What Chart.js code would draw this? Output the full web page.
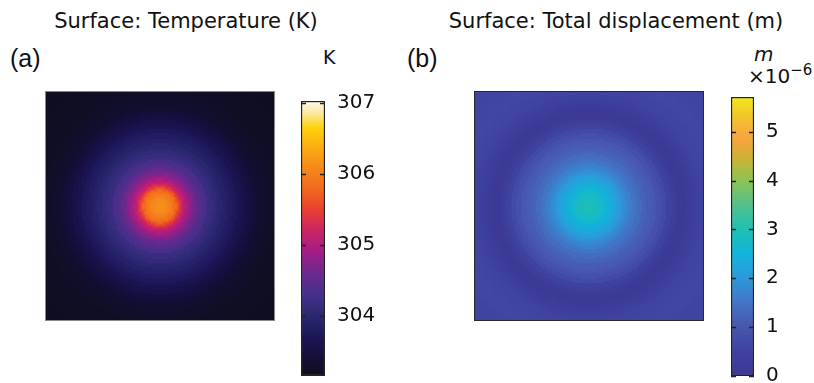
<!DOCTYPE html>
<html>
<head>
<meta charset="utf-8">
<script src="https://cdn.jsdelivr.net/npm/chart.js@4.4.1/dist/chart.umd.min.js"></script>
<style>
  body { margin: 0; background: #fff; overflow: hidden; width: 814px; height: 383px; position: relative; }
  .t { position: absolute; font-family: 'DejaVu Sans', sans-serif; font-size: 19px; line-height: 1; white-space: nowrap; color: #111; }
  .ttl { font-size: 21px; transform: translateX(-50%); }
  .lbl { font-family: 'Liberation Sans', Arial, sans-serif; font-size: 25px; }
  canvas { position: absolute; }
</style>
</head>
<body>
<div class="t ttl" style="left:186px;top:11px">Surface: Temperature (K)</div>
<div class="t ttl" style="left:616px;top:11px">Surface: Total displacement (m)</div>
<div class="t lbl" style="left:10px;top:46px">(a)</div>
<div class="t lbl" style="left:407px;top:46px">(b)</div>
<div class="t" style="left:323px;top:48px">K</div>
<div class="t" style="left:754px;top:44px;font-style:italic;font-size:20px">m</div>
<div class="t" style="left:748px;top:66px;font-size:20px">×10<span style="font-size:15px;position:relative;top:-8px">−6</span></div>

<canvas id="heatA" width="230" height="230" style="left:45px;top:91px"></canvas>
<canvas id="barA" width="84" height="305" style="left:301px;top:86px"></canvas>
<canvas id="heatB" width="230" height="230" style="left:474px;top:91px"></canvas>
<canvas id="barB" width="83" height="309" style="left:731px;top:82px"></canvas>

<script>
// radial profiles (distance from the centre of each plate, px)
const radiusPx = [0, 2.5, 5, 7.5, 10, 12.5, 15, 17.5, 20, 22.5, 25, 27.5, 30, 32.5, 35, 37.5, 40,
  45, 50, 55, 60, 65, 70, 75, 80, 85, 90, 95, 100, 105, 110, 115, 120, 125, 130, 135, 140,
  145, 150, 155, 160, 165];
const temperature = [306.15, 306.14, 306.12, 306.08, 306.02, 305.94, 305.84, 305.66, 305.42,
  305.2, 305.05, 304.93, 304.82, 304.71, 304.62, 304.53, 304.45,
  304.32, 304.2, 304.1, 304.0, 303.92, 303.84, 303.76, 303.66, 303.56, 303.48, 303.41, 303.35,
  303.31, 303.28, 303.26, 303.24, 303.23, 303.22, 303.21, 303.21, 303.2, 303.2, 303.2, 303.2, 303.2];
const displacement = [2.95, 2.94, 2.9, 2.85, 2.8, 2.73, 2.65, 2.56, 2.47, 2.38, 2.3, 2.2, 2.1,
  1.98, 1.88, 1.78, 1.68,
  1.52, 1.38, 1.25, 1.13, 1.03, 0.9, 0.72, 0.5, 0.3, 0.15, 0.13, 0.22, 0.34, 0.44, 0.52,
  0.57, 0.6, 0.62, 0.62, 0.6, 0.58, 0.56, 0.54, 0.52, 0.5];

const tempRange = [303.15, 307.03];
const dispRange = [0, 5.71];
const tempTicks = [304, 305, 306, 307];
const dispTicks = [0, 1, 2, 3, 4, 5];

// colour maps (value, colour)
const thermalMap = [
  [303.15, '#0f0f1c'], [303.4, '#150f38'], [303.7, '#1c1658'], [304.0, '#2a2870'],
  [304.3, '#44308a'], [304.6, '#6a2a8e'], [304.9, '#a21c88'], [305.2, '#cc2466'],
  [305.5, '#e8402e'], [305.8, '#f26a1e'], [306.1, '#f68a1c'], [306.4, '#fcb012'],
  [306.65, '#fed20a'], [306.85, '#fce89a'], [307.03, '#fff8e8']
];
const dispMap = [
  [0, '#3b3893'], [0.5, '#4042a0'], [1.0, '#4856ad'], [1.5, '#4374c4'], [2.0, '#2e98da'],
  [2.5, '#12b4da'], [3.0, '#1ec0b2'], [3.5, '#54c08c'], [4.0, '#8cc452'], [4.4, '#c4b436'],
  [4.75, '#f0a63c'], [5.0, '#f8ac3e'], [5.3, '#f2c42a'], [5.71, '#f2e81c']
];

const PLATE = 230;  // px
const GRID = 115;   // cells across each surface plot

function hexRgb(h) {
  return [1, 3, 5].map(i => parseInt(h.substr(i, 2), 16));
}

function colorFor(map, v) {
  if (v <= map[0][0]) return map[0][1];
  for (let i = 1; i < map.length; i++) {
    if (v <= map[i][0]) {
      const t = (v - map[i - 1][0]) / (map[i][0] - map[i - 1][0]);
      const a = hexRgb(map[i - 1][1]), b = hexRgb(map[i][1]);
      const c = a.map((x, k) => Math.round(x + (b[k] - x) * t));
      return `rgb(${c[0]},${c[1]},${c[2]})`;
    }
  }
  return map[map.length - 1][1];
}

// nearest sampled radius
function nearest(r) {
  let best = 0;
  radiusPx.forEach((s, i) => { if (Math.abs(s - r) < Math.abs(radiusPx[best] - r)) best = i; });
  return best;
}

const frame = {
  id: 'frame',
  afterDraw(chart, args, opts) {
    const { ctx, chartArea: a } = chart;
    ctx.save();
    ctx.strokeStyle = opts.color;
    ctx.lineWidth = 1;
    ctx.strokeRect(a.left + 0.5, a.top + 0.5, a.width - 1, a.height - 1);
    ctx.restore();
  }
};

function surface(id, profile, map, edge) {
  const c = (GRID - 1) / 2;
  const cell = PLATE / GRID;
  const pts = [];
  for (let i = 0; i < GRID; i++) {
    for (let j = 0; j < GRID; j++) {
      const r = Math.hypot(i - c, j - c) * cell;
      pts.push({ x: i, y: j, v: profile[nearest(r)] });
    }
  }
  new Chart(document.getElementById(id), {
    type: 'scatter',
    data: {
      datasets: [{
        data: pts,
        pointStyle: 'rect',
        radius: cell / Math.SQRT2 + 0.4,
        borderWidth: 0,
        backgroundColor: ctx => colorFor(map, ctx.raw ? ctx.raw.v : profile[0])
      }]
    },
    options: {
      responsive: false,
      animation: false,
      events: [],
      layout: { padding: 0, autoPadding: false },
      plugins: { legend: { display: false }, tooltip: { enabled: false }, frame: { color: edge } },
      scales: {
        x: { display: false, min: -0.5, max: GRID - 0.5 },
        y: { display: false, min: -0.5, max: GRID - 0.5 }
      }
    },
    plugins: [frame]
  });
}

const tickMarks = {
  id: 'tickMarks',
  afterDatasetsDraw(chart) {
    const { ctx, chartArea: a, scales: { y } } = chart;
    ctx.save();
    ctx.strokeStyle = '#222';
    ctx.lineWidth = 1.5;
    y.ticks.forEach(t => {
      const py = Math.round(y.getPixelForValue(t.value)) + 0.5;
      ctx.beginPath();
      ctx.moveTo(a.left, py); ctx.lineTo(a.left + 5, py);
      ctx.moveTo(a.right - 5, py); ctx.lineTo(a.right, py);
      ctx.stroke();
    });
    ctx.restore();
  }
};

function colorbar(id, range, ticks, map) {
  new Chart(document.getElementById(id), {
    type: 'bar',
    data: {
      labels: [''],
      datasets: [{
        data: [range],
        backgroundColor: ctx => {
          const chart = ctx.chart;
          if (!chart.chartArea) return map[0][1];
          const y = chart.scales.y;
          const g = chart.ctx.createLinearGradient(0, y.getPixelForValue(range[0]), 0, y.getPixelForValue(range[1]));
          map.forEach(([v, col]) => g.addColorStop((v - range[0]) / (range[1] - range[0]), col));
          return g;
        },
        borderColor: '#222',
        borderWidth: 1.5,
        borderSkipped: false,
        barPercentage: 1,
        categoryPercentage: 1
      }]
    },
    options: {
      responsive: false,
      animation: false,
      events: [],
      layout: { padding: { top: 15, bottom: 15, left: 0, right: 0 }, autoPadding: false },
      plugins: { legend: { display: false }, tooltip: { enabled: false } },
      scales: {
        x: { display: false },
        y: {
          position: 'right',
          min: range[0],
          max: range[1],
          afterBuildTicks: s => { s.ticks = ticks.map(v => ({ value: v })); },
          afterFit: s => { s.width = 60; s.paddingTop = 0; s.paddingBottom = 0; },
          grid: { display: false, drawTicks: false },
          border: { display: false },
          ticks: { color: '#111', padding: 12, font: { family: 'DejaVu Sans', size: 20 } }
        }
      }
    },
    plugins: [tickMarks]
  });
}

surface('heatA', temperature, thermalMap, '#8a8a8a');
surface('heatB', displacement, dispMap, '#2a2a2a');
colorbar('barA', tempRange, tempTicks, thermalMap);
colorbar('barB', dispRange, dispTicks, dispMap);
</script>
</body>
</html>
